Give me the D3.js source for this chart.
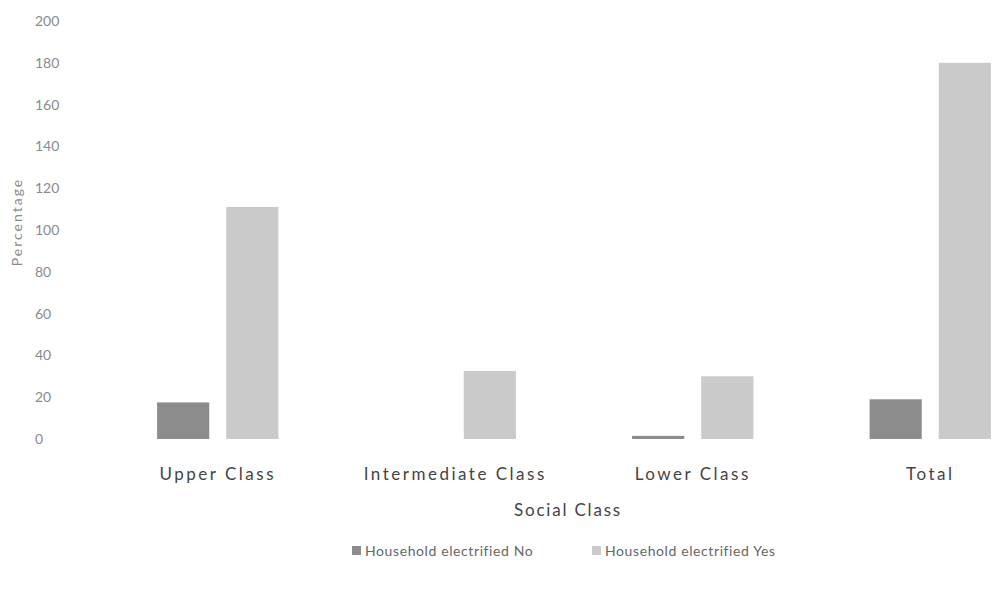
<!doctype html>
<html lang="en">
<head>
<meta charset="utf-8">
<title>Household electrification by social class</title>
<style>
  body { margin: 0; background: #fff; }
  svg { display: block; overflow: hidden; }
  text { font-family: Lato, "Open Sans", sans-serif; }
</style>
</head>
<body>
<div id="mychart"></div>
<script src="https://d3js.org/d3.v7.min.js"></script>
<script>
// chart data
var categories = ["Upper Class", "Intermediate Class", "Lower Class", "Total"];
var seriesNames = ["Household electrified No", "Household electrified Yes"];
var electrifiedNo = [17.5, 0, 1.5, 19];
var electrifiedYes = [111, 32.5, 30, 180];
var yTicks = [0, 20, 40, 60, 80, 100, 120, 140, 160, 180, 200];

var width = 992;
var height = 592;
var colors = ["#8c8c8c", "#cacaca"];

var svg = d3.select("#mychart").append("svg")
  .attr("width", width)
  .attr("height", height);

// the original is cropped on the right, so the band range runs past the edge
var x = d3.scaleBand()
  .domain(categories)
  .range([99, 1049])
  .paddingInner(0)
  .paddingOuter(0);

var inner = d3.scaleBand()
  .domain(seriesNames)
  .range([0, x.bandwidth()])
  .paddingInner(0.246)
  .paddingOuter(0.84);

var y = d3.scaleLinear()
  .domain([0, 200])
  .range([439, 21]);

// y tick labels (no axis line in the original)
svg.append("g").selectAll("text")
  .data(yTicks)
  .enter()
  .append("text")
  .attr("x", 35)
  .attr("y", function(d) { return y(d); })
  .attr("dy", "0.35em")
  .attr("fill", "#8a8a8a")
  .attr("font-size", 14)
  .text(function(d) { return d; });

svg.append("text")
  .attr("transform", "translate(22,222) rotate(-90)")
  .attr("text-anchor", "middle")
  .attr("fill", "#8a8a8a")
  .attr("font-size", 14)
  .attr("letter-spacing", 2)
  .text("Percentage");

var rows = categories.map(function(c, i) {
  return { cat: c, values: [electrifiedNo[i], electrifiedYes[i]] };
});

var groups = svg.append("g").selectAll("g")
  .data(rows)
  .enter()
  .append("g")
  .attr("transform", function(d) { return "translate(" + x(d.cat) + ",0)"; });

groups.selectAll("rect")
  .data(function(d) {
    return d.values.map(function(v, j) { return { name: seriesNames[j], value: v, j: j }; });
  })
  .enter()
  .append("rect")
  .attr("x", function(d) { return inner(d.name); })
  .attr("width", inner.bandwidth())
  .attr("y", function(d) { return y(d.value); })
  .attr("height", function(d) { return y(0) - y(d.value); })
  .attr("fill", function(d) { return colors[d.j]; });

// category labels
svg.append("g").selectAll("text")
  .data(categories)
  .enter()
  .append("text")
  .attr("x", function(d) { return x(d) + x.bandwidth() / 2; })
  .attr("y", 480)
  .attr("text-anchor", "middle")
  .attr("fill", "#444")
  .attr("font-size", 17)
  .attr("letter-spacing", 2.5)
  .text(function(d) { return d; });

svg.append("text")
  .attr("x", 568)
  .attr("y", 516)
  .attr("text-anchor", "middle")
  .attr("fill", "#444")
  .attr("font-size", 17)
  .attr("letter-spacing", 1.8)
  .text("Social Class");

// legend
var legendX = [352, 592];
var legend = svg.append("g").selectAll("g")
  .data(seriesNames)
  .enter()
  .append("g")
  .attr("transform", function(d, i) { return "translate(" + legendX[i] + ",551)"; });

legend.append("rect")
  .attr("x", 0)
  .attr("y", -5)
  .attr("width", 9)
  .attr("height", 9)
  .attr("fill", function(d, i) { return colors[i]; });

legend.append("text")
  .attr("x", 13)
  .attr("y", 0)
  .attr("dy", "0.35em")
  .attr("fill", "#666")
  .attr("font-size", 14)
  .attr("letter-spacing", 0.6)
  .text(function(d) { return d; });
</script>
</body>
</html>
